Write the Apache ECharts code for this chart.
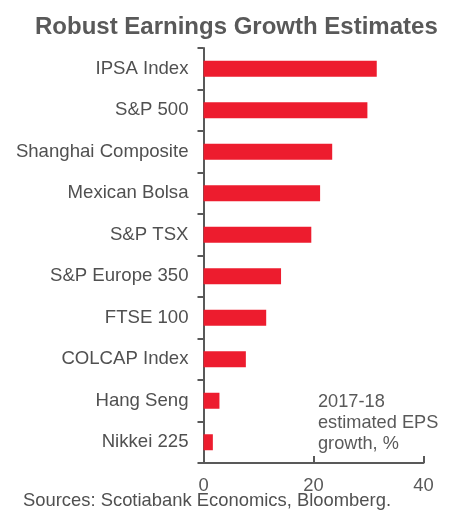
<!DOCTYPE html>
<html>
<head>
<meta charset="utf-8">
<script src="https://cdn.jsdelivr.net/npm/echarts@6/dist/echarts.min.js"></script>
<style>
html,body{margin:0;padding:0;background:#fff;}
#c{width:454px;height:510px;}
</style>
</head>
<body>
<div id="c"></div>
<script>
var categories = ["IPSA Index","S&P 500","Shanghai Composite","Mexican Bolsa","S&P TSX","S&P Europe 350","FTSE 100","COLCAP Index","Hang Seng","Nikkei 225"];
var values = [31.5, 29.8, 23.4, 21.2, 19.6, 14.1, 11.4, 7.7, 2.9, 1.7];
var xTicks = [0, 20, 40];

var chart = echarts.init(document.getElementById('c'), null, {renderer:'canvas'});
var font = 'Liberation Sans, Arial, sans-serif';
var axisColor = '#595959';
chart.setOption({
  animation: false,
  backgroundColor: '#ffffff',
  title: {
    text: 'Robust Earnings Growth Estimates',
    left: 30,
    top: 10,
    textStyle: {fontFamily: font, fontSize: 24, fontWeight: 'bold', color: '#595959'}
  },
  grid: {left: 203.5, right: 30.5, top: 48, bottom: 47, containLabel: false},
  xAxis: {
    type: 'value',
    min: xTicks[0], max: xTicks[xTicks.length-1], interval: 20,
    axisLine: {show: true, lineStyle: {color: axisColor, width: 2}},
    axisTick: {show: true, inside: true, length: 7, lineStyle: {color: axisColor, width: 2}},
    splitLine: {show: false},
    axisLabel: {fontFamily: font, fontSize: 18.4, color: '#595959', margin: 14}
  },
  yAxis: {
    type: 'category',
    data: categories,
    inverse: true,
    axisLine: {show: true, lineStyle: {color: axisColor, width: 2}},
    axisTick: {show: true, length: 6, lineStyle: {color: axisColor, width: 2}},
    axisLabel: {fontFamily: font, fontSize: 18.6, color: '#505050', margin: 15}
  },
  series: [{
    type: 'bar',
    data: values,
    barWidth: 16,
    itemStyle: {color: '#ED1C2E'}
  }],
  graphic: [
    {type: 'text', left: 318, top: 391, style: {text: '2017-18\nestimated EPS\ngrowth, %', fontFamily: font, fontSize: 18.2, lineHeight: 21, fill: '#595959'}},
    {type: 'text', left: 23, top: 492, style: {text: 'Sources: Scotiabank Economics, Bloomberg.', fontFamily: font, fontSize: 18.4, fill: '#505050'}}
  ]
});
</script>
</body>
</html>
